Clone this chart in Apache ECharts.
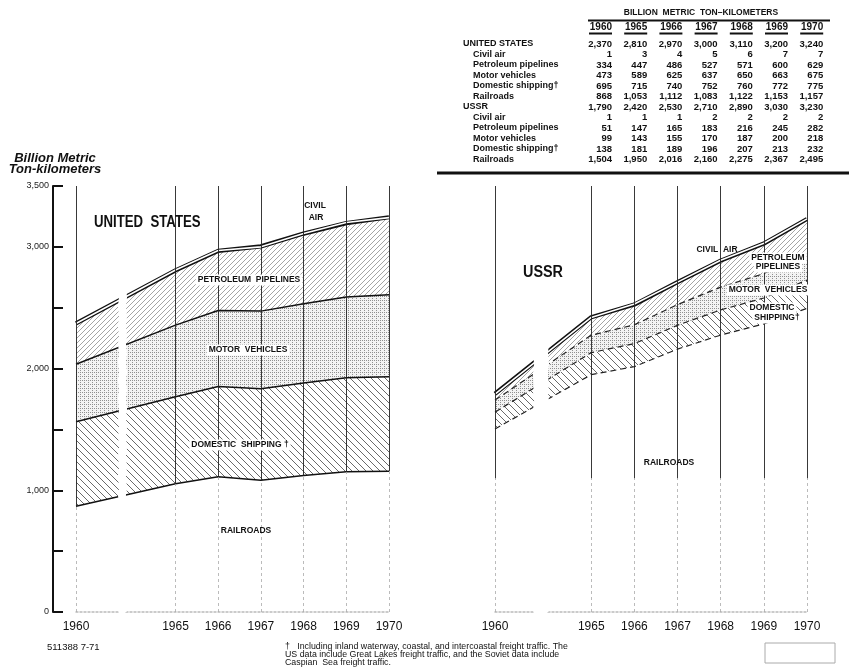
<!DOCTYPE html>
<html>
<head>
<meta charset="utf-8">
<script src="https://cdn.jsdelivr.net/npm/echarts@6/dist/echarts.min.js"></script>
<style>
  html, body { margin: 0; padding: 0; background: #fff; }
  #chart { width: 849px; height: 671px; }
</style>
</head>
<body>
<div id="chart"></div>
<script>
// billion metric ton-kilometers
const years = [1960, 1965, 1966, 1967, 1968, 1969, 1970];

const usTotal     = [2370, 2810, 2970, 3000, 3110, 3200, 3240];
const usCivilAir  = [1, 3, 4, 5, 6, 7, 7];
const usPipelines = [334, 447, 486, 527, 571, 600, 629];
const usMotor     = [473, 589, 625, 637, 650, 663, 675];
const usShipping  = [695, 715, 740, 752, 760, 772, 775];
const usRail      = [868, 1053, 1112, 1083, 1122, 1153, 1157];

const suTotal     = [1790, 2420, 2530, 2710, 2890, 3030, 3230];
const suCivilAir  = [1, 1, 1, 2, 2, 2, 2];
const suPipelines = [51, 147, 165, 183, 216, 245, 282];
const suMotor     = [99, 143, 155, 170, 187, 200, 218];
const suShipping  = [138, 181, 189, 196, 207, 213, 232];
const suRail      = [1504, 1950, 2016, 2160, 2275, 2367, 2495];

const yLabelTicks = [0, 1000, 2000, 3000, 3500];

const fmt = (v) => v.toLocaleString('en-US');
const FONT = '"Liberation Sans", Arial, sans-serif';

// fill patterns
function hatch(size, dir, color, lw) {
  const c = document.createElement('canvas');
  c.width = c.height = size;
  const g = c.getContext('2d');
  g.strokeStyle = color;
  g.lineWidth = lw;
  g.beginPath();
  for (let k = -1; k <= 1; k++) {
    if (dir === '/') { g.moveTo(k * size, size); g.lineTo(k * size + size, 0); }
    else { g.moveTo(k * size, 0); g.lineTo(k * size + size, size); }
  }
  g.stroke();
  return { image: c, repeat: 'repeat' };
}
function stipple() {
  const c = document.createElement('canvas');
  c.width = c.height = 4;
  const g = c.getContext('2d');
  g.fillStyle = '#f3f3f3';
  g.fillRect(0, 0, 4, 4);
  g.fillStyle = '#909090';
  g.fillRect(0, 0, 1, 1); g.fillRect(2, 0, 1, 1); g.fillRect(0, 2, 1, 1);
  return { image: c, repeat: 'repeat' };
}
const shipFill = hatch(7, '\\', '#444', 0.8);
const pipeFill = hatch(5, '/', '#666', 0.6);
const motorFill = stipple();

function countrySeries(key, idx, rail, ship, motor, pipe, air, total, dashed, splitAt) {
  // value first so the stack sums the y dimension; encode maps it back
  const pts = (arr) => years.map((y, i) => [arr[i], y]);
  const solid = { color: '#111', width: 1.5, type: 'solid' };
  const inner = dashed ? { color: '#222', width: 1.2, type: [6, 4] } : solid;
  const base = {
    type: 'line', xAxisIndex: idx, yAxisIndex: idx, stack: key, symbol: 'none', silent: true, z: 2,
    encode: { x: 1, y: 0 }
  };
  const verticals = [];
  years.forEach((y, i) => {
    const s = splitAt(i);
    verticals.push([{ coord: [y, 0], lineStyle: { color: '#aaa', width: 0.8, type: [3, 3] } }, { coord: [y, s] }]);
    verticals.push([{ coord: [y, s], lineStyle: { color: '#222', width: 0.9, type: 'solid' } }, { coord: [y, 3500] }]);
  });
  return [
    Object.assign({}, base, { name: 'Railroads', data: pts(rail), lineStyle: inner }),
    Object.assign({}, base, { name: 'Domestic shipping', data: pts(ship), lineStyle: inner, areaStyle: { color: shipFill, opacity: 1 } }),
    Object.assign({}, base, { name: 'Motor vehicles', data: pts(motor), lineStyle: inner, areaStyle: { color: motorFill, opacity: 1 } }),
    Object.assign({}, base, { name: 'Petroleum pipelines', data: pts(pipe), lineStyle: { color: '#111', width: 1 }, areaStyle: { color: pipeFill, opacity: 1 } }),
    Object.assign({}, base, { name: 'Civil air', data: pts(air), lineStyle: { color: '#111', width: 4.2 } }),
    {
      name: key + ' total', type: 'line', xAxisIndex: idx, yAxisIndex: idx, symbol: 'none', silent: true, z: 3,
      data: years.map((y, i) => [y, total[i]]), lineStyle: { color: '#fff', width: 1.6 },
      markLine: { silent: true, symbol: 'none', label: { show: false }, data: verticals }
    }
  ];
}

function xAxisFor(idx, brk) {
  return {
    type: 'value', gridIndex: idx, min: 1960, max: 1970,
    breaks: [brk],
    breakArea: {
      show: true, itemStyle: { color: '#fff', opacity: 1, borderWidth: 0 },
      zigzagAmplitude: 0.6, zigzagMinSpan: 6, zigzagMaxSpan: 12, zigzagZ: 8, expandOnClick: false
    },
    axisLine: { show: true, lineStyle: { color: '#bbb', width: 1.5, type: [2, 2] } },
    axisTick: { show: false },
    splitLine: { show: false },
    axisLabel: { customValues: years, formatter: (v) => String(v), color: '#111', fontFamily: FONT, fontSize: 12, margin: 9 }
  };
}

// table drawn from the same arrays
const tableRows = [
  ['UNITED STATES', usTotal, 0], ['Civil air', usCivilAir, 1], ['Petroleum pipelines', usPipelines, 1],
  ['Motor vehicles', usMotor, 1], ['Domestic shipping\u2020', usShipping, 1], ['Railroads', usRail, 1],
  ['USSR', suTotal, 0], ['Civil air', suCivilAir, 1], ['Petroleum pipelines', suPipelines, 1],
  ['Motor vehicles', suMotor, 1], ['Domestic shipping\u2020', suShipping, 1], ['Railroads', suRail, 1]
];
const g = [];
const txt = (text, x, y, font, align, extra, styleExtra) => g.push(Object.assign({
  type: 'text', x, y, z: 100, silent: true,
  style: Object.assign({ text, font, fill: '#111', textAlign: align || 'left', textVerticalAlign: 'middle' }, styleExtra || {})
}, extra || {}));
const line = (x1, y1, x2, y2, w, color) => g.push({ type: 'line', z: 100, silent: true, shape: { x1, y1, x2, y2 }, style: { stroke: color || '#111', lineWidth: w } });

txt('BILLION  METRIC  TON\u2013KILOMETERS', 701, 13, 'bold 8.5px ' + FONT, 'center');
line(588, 20.5, 830, 20.5, 2);
years.forEach((y, i) => {
  const r = 612 + i * 35.2;
  txt(String(y), r, 27, 'bold 10px ' + FONT, 'right');
  line(r - 23, 33.5, r, 33.5, 2);
});
tableRows.forEach((row, j) => {
  const y = 44 + j * 10.5;
  txt(row[0], row[2] ? 473 : 463, y, 'bold 9px ' + FONT, 'left');
  row[1].forEach((v, i) => txt(fmt(v), 612 + i * 35.2, y, 'bold 9.5px ' + FONT, 'right'));
});
line(437, 173, 849, 173, 3);

// titles and labels
txt('Billion Metric', 55, 158, 'italic bold 13px ' + FONT, 'center');
txt('Ton-kilometers', 55, 169, 'italic bold 13px ' + FONT, 'center');
txt('UNITED  STATES', 94, 222, 'bold 16.5px ' + FONT, 'left', { scaleX: 0.8 });
txt('USSR', 523, 273, 'bold 16px ' + FONT, 'left', { scaleX: 0.9 });

const lab = 'bold 8.5px ' + FONT;
const bg = { backgroundColor: '#fff', padding: [1, 2] };
txt('CIVIL', 315, 206, lab, 'center');
txt('AIR', 316, 218, lab, 'center');
txt('PETROLEUM  PIPELINES', 249, 280, lab, 'center', null, bg);
txt('MOTOR  VEHICLES', 248, 350, lab, 'center', null, bg);
txt('DOMESTIC  SHIPPING \u2020', 240, 445, lab, 'center', null, bg);
txt('RAILROADS', 246, 531, lab, 'center');

txt('CIVIL  AIR', 717, 250, lab, 'center');
txt('PETROLEUM', 778, 258, lab, 'center', null, bg);
txt('PIPELINES', 778, 267, lab, 'center', null, bg);
txt('MOTOR  VEHICLES', 768, 290, lab, 'center', null, bg);
txt('DOMESTIC', 772, 308, lab, 'center', null, bg);
txt('SHIPPING\u2020', 777, 318, lab, 'center', null, bg);
txt('RAILROADS', 669, 463, lab, 'center');

// footer
txt('511388 7-71', 47, 647, '9.5px ' + FONT, 'left');
const foot = '8.8px ' + FONT;
txt('\u2020   Including inland waterway, coastal, and intercoastal freight traffic. The', 285, 647, foot, 'left');
txt('US data include Great Lakes freight traffic, and the Soviet data include', 285, 655, foot, 'left');
txt('Caspian  Sea freight traffic.', 285, 663, foot, 'left');
g.push({ type: 'rect', z: 100, silent: true, shape: { x: 765, y: 643, width: 70, height: 20 }, style: { fill: 'none', stroke: '#aaa', lineWidth: 1 } });

const chart = echarts.init(document.getElementById('chart'));
chart.setOption({
  animation: false,
  backgroundColor: '#fff',
  grid: [
    { left: 76, right: 460, top: 186, bottom: 59 },
    { left: 495, right: 42, top: 186, bottom: 59 }
  ],
  xAxis: [
    xAxisFor(0, { start: 1961, end: 1963.84, gap: 0.17 }),
    xAxisFor(1, { start: 1960.88, end: 1964, gap: 0.35 })
  ],
  yAxis: [
    {
      type: 'value', gridIndex: 0, min: 0, max: 3500, interval: 500, offset: 23,
      axisLine: { show: true, lineStyle: { color: '#111', width: 2 } },
      axisTick: { show: true, inside: true, length: 10, lineStyle: { color: '#111', width: 2 } },
      axisLabel: { formatter: (v) => (yLabelTicks.includes(v) ? fmt(v) : ''), color: '#222', fontFamily: FONT, fontSize: 9, margin: 4 },
      splitLine: { show: false }
    },
    { type: 'value', gridIndex: 1, min: 0, max: 3500, show: false, splitLine: { show: false } }
  ],
  graphic: { elements: g },
  series: [
    ...countrySeries('us', 0, usRail, usShipping, usMotor, usPipelines, usCivilAir, usTotal, false, (i) => usRail[i]),
    ...countrySeries('su', 1, suRail, suShipping, suMotor, suPipelines, suCivilAir, suTotal, true, () => 1100)
  ]
});
</script>
</body>
</html>
